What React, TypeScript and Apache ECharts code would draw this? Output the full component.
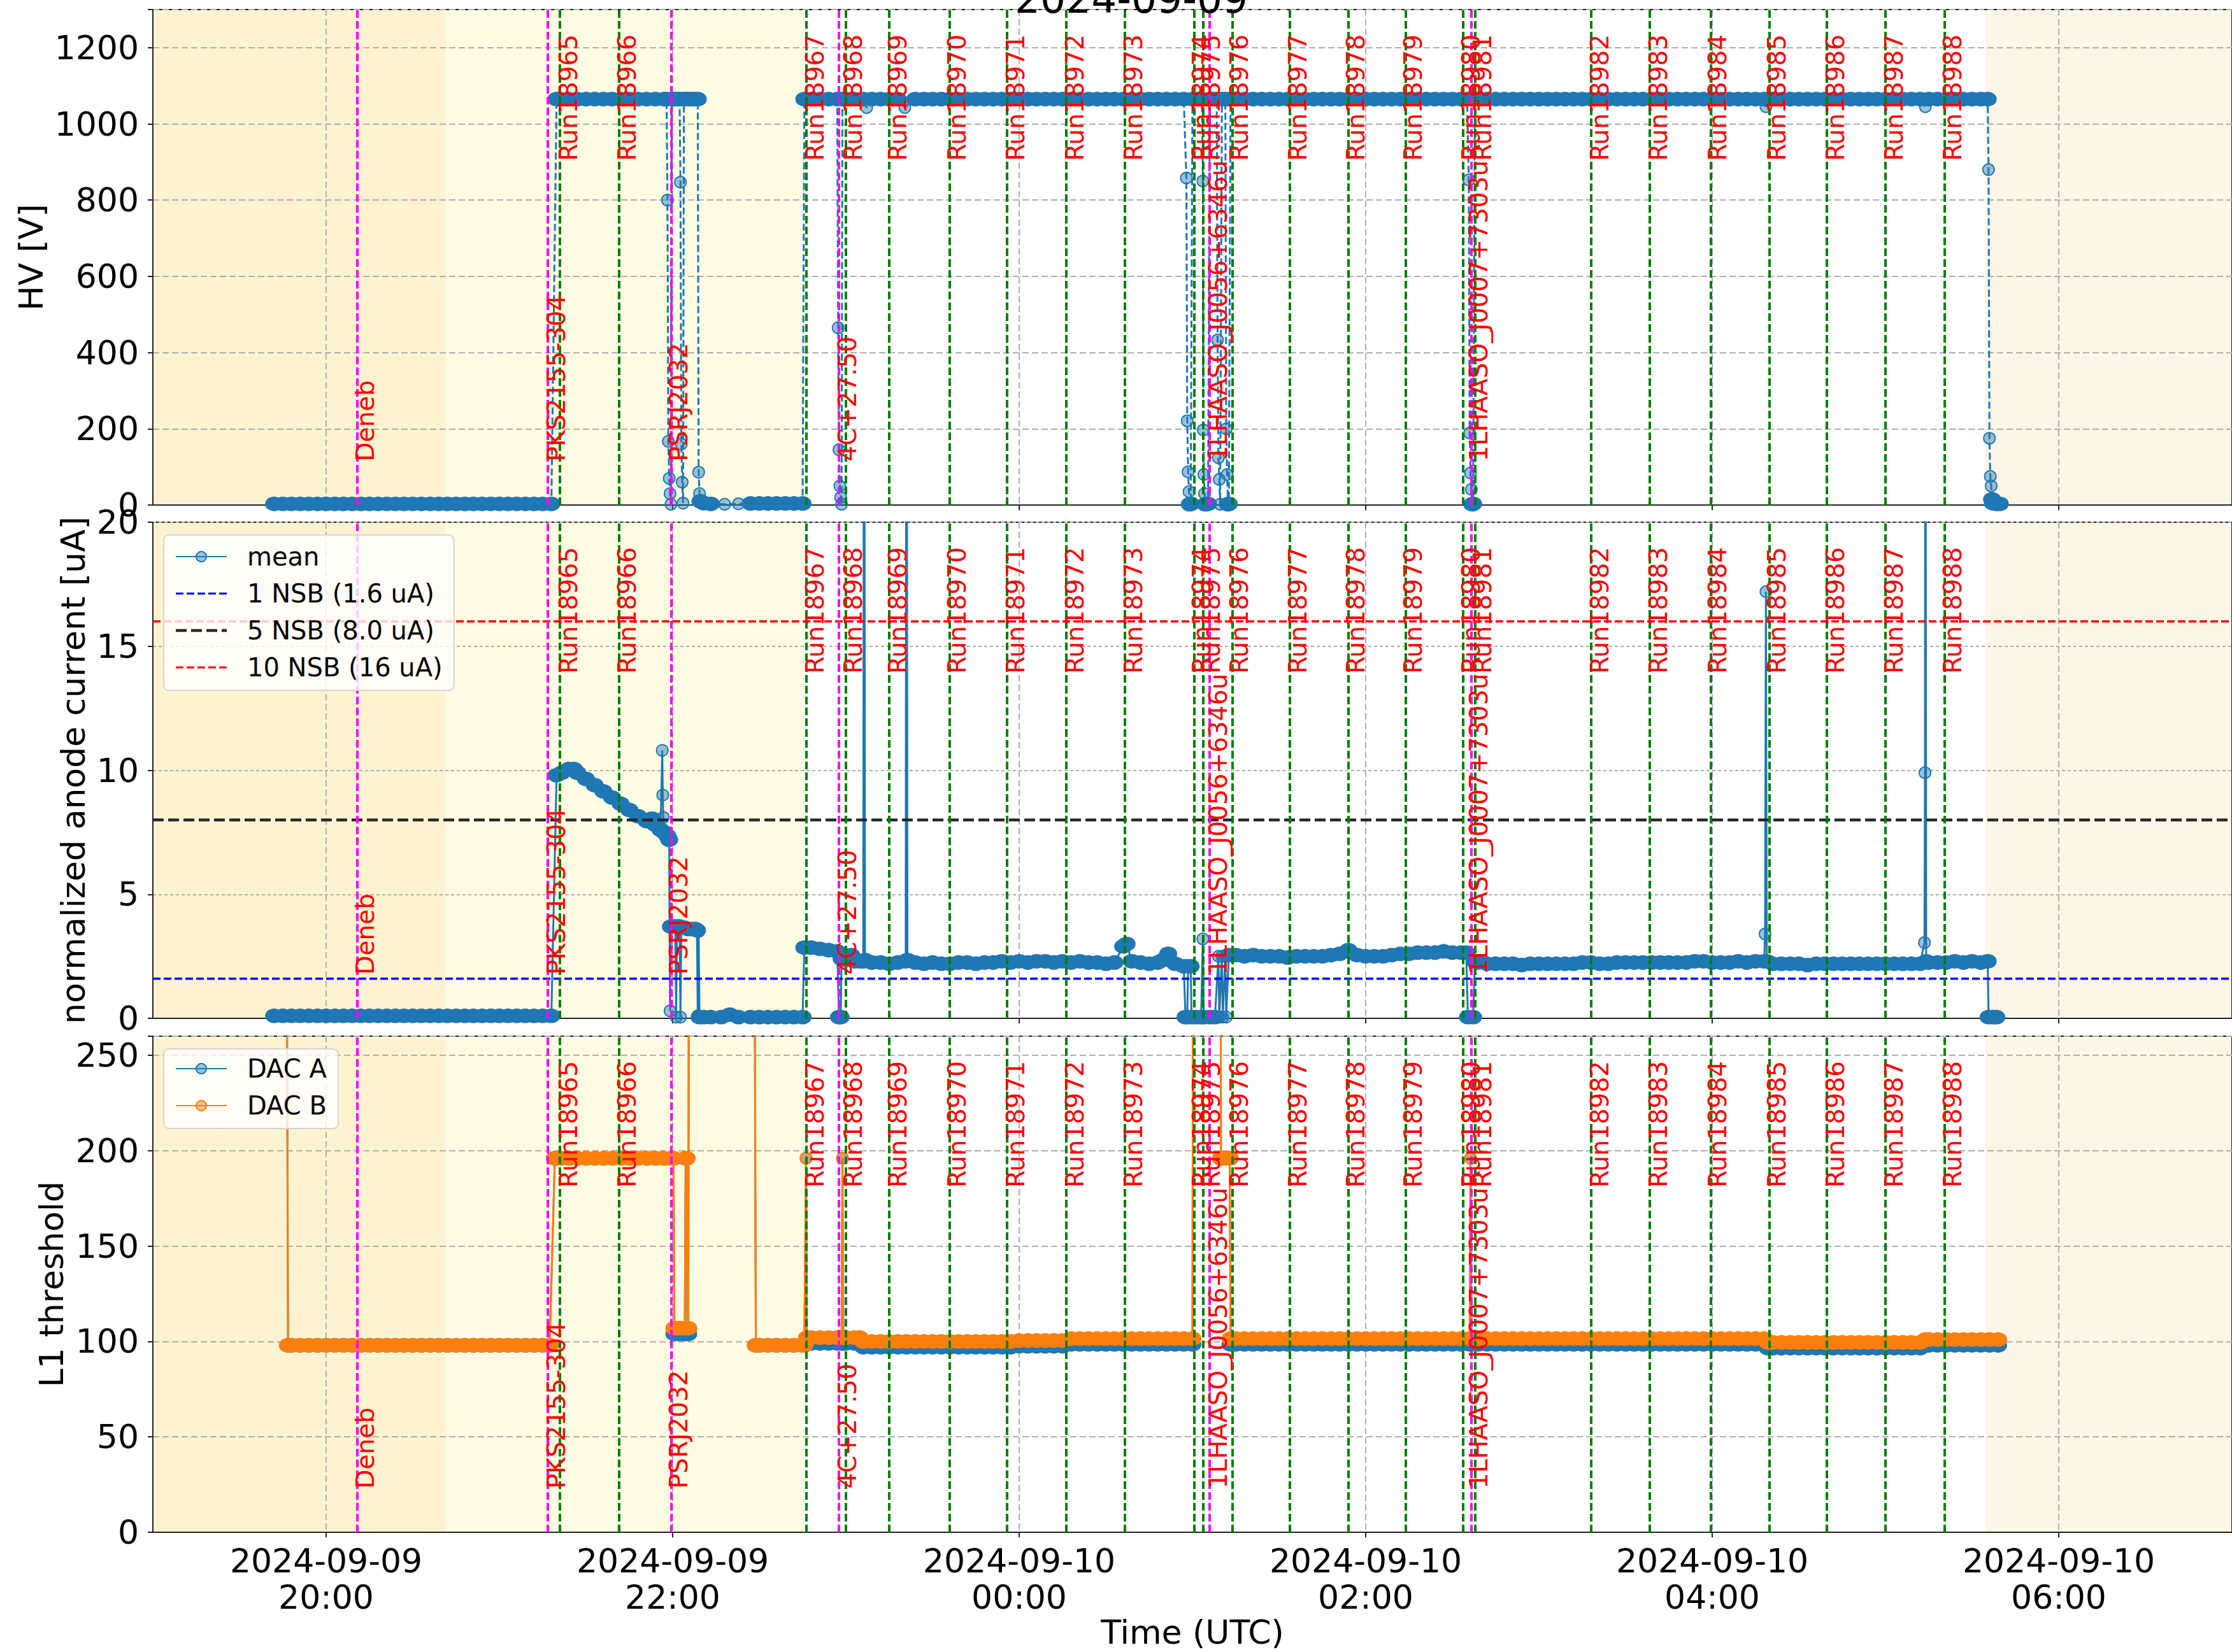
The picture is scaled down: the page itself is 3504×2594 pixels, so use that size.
import React, { useEffect, useRef } from 'react';
import * as echarts from 'echarts';

// x values: hours since 2024-09-09 00:00 UTC
const X_MIN = 19;
const X_MAX = 31;
const X_TICKS = [20, 22, 24, 26, 28, 30];
const TITLE = '2024-09-09';

const RUN_NAMES = ['Run18965','Run18966','Run18967','Run18968','Run18969','Run18970','Run18971','Run18972','Run18973','Run18974','Run18975','Run18976','Run18977','Run18978','Run18979','Run18980','Run18981','Run18982','Run18983','Run18984','Run18985','Run18986','Run18987','Run18988'];
const RUN_TIMES = [21.353,21.69,22.774,22.996,23.255,23.596,23.934,24.274,24.614,25.006,25.063,25.225,25.564,25.898,26.229,26.563,26.63,27.304,27.645,27.987,28.326,28.665,29.004,29.343];

const SOURCE_NAMES = ['Deneb','PKS2155-304','PSRJ2032','4C+27.50','1LHAASO_J0056+6346u','1LHAASO_J0007+7303u'];
const SOURCE_TIMES = [20.18,21.283,21.988,22.965,25.103,26.606];

const SKY_SPANS = [[19, 20.69], [20.69, 22.76], [29.576, 31]];
const SKY_COLORS = ['#fdf3d1', '#fffce3', '#fdf5e6'];

const NSB_NAMES = ['1 NSB (1.6 uA)', '5 NSB (8.0 uA)', '10 NSB (16 uA)'];
const NSB_LEVELS = [1.6, 8.0, 16];
const NSB_COLORS = ['#0000ff', '#262626', '#ff0000'];

const HV_VOLTAGE = [
[19.70,3],[19.75,3],[19.80,3],[19.85,3],[19.90,3],[19.95,3],[20.00,3],[20.05,3],[20.10,3],[20.15,3],[20.20,3],[20.25,3],[20.30,3],[20.35,3],[20.40,3],[20.45,3],[20.50,3],[20.55,3],[20.60,3],[20.65,3],[20.70,3],[20.75,3],[20.80,3],[20.85,3],[20.90,3],[20.95,3],[21.00,3],[21.05,3],[21.10,3],[21.15,3],[21.20,3],[21.25,3],[21.30,3],
[21.33,1065],[21.35,1065],[21.40,1065],[21.45,1065],[21.50,1065],[21.55,1065],[21.60,1065],[21.65,1065],[21.70,1065],[21.75,1065],[21.80,1065],[21.85,1065],[21.90,1065],[21.95,1065],[21.965,1065],
[21.97,800],[21.975,167],[21.98,70],[21.985,30],[21.99,2],[21.995,1065],[22.01,1065],[22.025,1065],[22.04,1065],
[22.045,847],[22.05,160],[22.055,60],[22.06,5],[22.065,1065],[22.08,1065],[22.10,1065],[22.12,1065],[22.145,1065],
[22.15,86],[22.155,30],[22.16,10],[22.18,5],[22.22,3],[22.30,2],[22.38,3],[22.45,4],[22.50,4],[22.55,4],[22.60,4],[22.65,4],[22.70,4],[22.75,4],
[22.76,1065],[22.80,1065],[22.85,1065],[22.90,1065],[22.95,1065],
[22.955,465],[22.96,145],[22.965,50],[22.97,20],[22.975,2],[22.98,1065],
[23.00,1065],[23.05,1065],[23.10,1065],[23.12,1043],[23.15,1065],[23.20,1065],[23.25,1065],[23.30,1065],[23.34,1043],
[23.40,1065],[23.45,1065],[23.50,1065],[23.55,1065],[23.60,1065],[23.65,1065],[23.70,1065],[23.75,1065],[23.80,1065],[23.85,1065],[23.90,1065],[23.95,1065],
[24.00,1065],[24.05,1065],[24.10,1065],[24.15,1065],[24.20,1065],[24.25,1065],[24.30,1065],[24.35,1065],[24.40,1065],[24.45,1065],[24.50,1065],[24.55,1065],
[24.60,1065],[24.65,1065],[24.70,1065],[24.75,1065],[24.80,1065],[24.85,1065],[24.90,1065],[24.95,1065],
[24.965,858],[24.97,221],[24.975,87],[24.98,35],[24.985,2],[24.99,3],[25.00,1065],[25.03,1065],[25.055,1065],
[25.06,850],[25.063,197],[25.066,80],[25.07,30],[25.075,2],[25.09,3],[25.10,1065],[25.12,1065],[25.14,1065],
[25.145,433],[25.15,124],[25.155,67],[25.16,2],[25.17,1065],[25.19,1065],
[25.195,200],[25.20,80],[25.205,2],[25.21,3],[25.22,1065],
[25.25,1065],[25.30,1065],[25.35,1065],[25.40,1065],[25.45,1065],[25.50,1065],[25.55,1065],[25.60,1065],[25.65,1065],[25.70,1065],[25.75,1065],[25.80,1065],[25.85,1065],[25.90,1065],
[25.95,1065],[26.00,1065],[26.05,1065],[26.10,1065],[26.15,1065],[26.20,1065],[26.25,1065],[26.30,1065],[26.35,1065],[26.40,1065],[26.45,1065],[26.50,1065],[26.55,1065],
[26.585,1065],[26.595,853],[26.60,189],[26.605,84],[26.61,41],[26.615,2],[26.62,3],[26.63,1065],
[26.65,1065],[26.70,1065],[26.75,1065],[26.80,1065],[26.85,1065],[26.90,1065],[26.95,1065],[27.00,1065],[27.05,1065],[27.10,1065],[27.15,1065],[27.20,1065],
[27.25,1065],[27.30,1065],[27.35,1065],[27.40,1065],[27.45,1065],[27.50,1065],[27.55,1065],[27.60,1065],[27.65,1065],[27.70,1065],[27.75,1065],[27.80,1065],
[27.85,1065],[27.90,1065],[27.95,1065],[28.00,1065],[28.05,1065],[28.10,1065],[28.15,1065],[28.20,1065],[28.25,1065],[28.30,1065],
[28.31,1045],[28.33,1065],
[28.35,1065],[28.40,1065],[28.45,1065],[28.50,1065],[28.55,1065],[28.60,1065],[28.65,1065],[28.70,1065],[28.75,1065],[28.80,1065],[28.85,1065],[28.90,1065],
[28.95,1065],[29.00,1065],[29.05,1065],[29.10,1065],[29.15,1065],[29.20,1065],
[29.23,1045],
[29.25,1065],[29.30,1065],[29.35,1065],[29.40,1065],[29.45,1065],[29.50,1065],[29.55,1065],[29.59,1065],
[29.595,880],[29.60,175],[29.605,75],[29.61,50],[29.615,15],[29.62,5],[29.64,3],[29.66,3]
];

const MEAN_CURRENT = [
[19.70,0.1],[19.75,0.1],[19.80,0.1],[19.85,0.1],[19.90,0.1],[19.95,0.1],[20.00,0.1],[20.05,0.1],[20.10,0.1],[20.15,0.1],[20.20,0.1],[20.25,0.1],[20.30,0.1],[20.35,0.1],[20.40,0.1],[20.45,0.1],[20.50,0.1],[20.55,0.1],[20.60,0.1],[20.65,0.1],[20.70,0.1],[20.75,0.1],[20.80,0.1],[20.85,0.1],[20.90,0.1],[20.95,0.1],[21.00,0.1],[21.05,0.1],[21.10,0.1],[21.15,0.1],[21.20,0.1],[21.25,0.1],[21.30,0.1],
[21.33,9.8],[21.36,9.9],[21.40,10.05],[21.43,10.05],[21.45,9.9],[21.50,9.65],[21.55,9.4],[21.60,9.15],[21.65,8.9],[21.70,8.65],[21.75,8.4],[21.80,8.15],[21.85,7.95],[21.88,8.05],[21.90,7.8],[21.93,7.6],
[21.94,10.8],[21.943,9.0],[21.946,8.1],[21.95,7.5],[21.97,7.35],[21.98,7.2],[21.985,0.3],
[21.99,3.7],[22.00,3.7],[22.015,3.7],[22.02,0.05],[22.025,3.7],[22.04,3.7],[22.045,0.05],[22.05,3.65],[22.07,3.65],[22.09,3.6],[22.11,3.6],[22.13,3.6],[22.14,3.55],[22.145,0.1],[22.15,3.5],[22.155,0.05],
[22.18,0.05],[22.22,0.05],[22.28,0.05],[22.33,0.15],[22.38,0.05],[22.45,0.05],[22.50,0.05],[22.55,0.05],[22.60,0.05],[22.65,0.05],[22.70,0.05],[22.75,0.05],
[22.76,2.85],[22.80,2.85],[22.85,2.8],[22.90,2.75],[22.95,2.7],[22.96,0.05],[22.97,0.05],[22.975,2.4],[23.00,2.35],[23.03,2.55],[23.05,2.3],[23.08,2.3],[23.10,2.3],[23.105,40],
[23.11,2.35],[23.15,2.25],[23.20,2.25],[23.25,2.2],[23.30,2.25],[23.345,2.3],[23.35,40],[23.355,2.35],
[23.40,2.25],[23.45,2.2],[23.50,2.25],[23.55,2.2],[23.60,2.2],[23.65,2.25],[23.70,2.25],[23.75,2.2],[23.80,2.25],[23.85,2.25],[23.90,2.3],[23.95,2.25],
[24.00,2.3],[24.05,2.25],[24.10,2.3],[24.15,2.3],[24.20,2.25],[24.25,2.3],[24.30,2.25],[24.35,2.3],[24.40,2.25],[24.45,2.25],[24.50,2.2],[24.55,2.25],
[24.60,2.9],[24.62,3.0],[24.65,2.3],[24.70,2.25],[24.75,2.2],[24.80,2.25],[24.83,2.35],[24.86,2.6],[24.90,2.2],[24.95,2.1],
[24.96,0.05],[24.97,0.05],[24.975,2.1],[24.99,2.1],[24.995,0.05],[25.02,0.05],[25.05,0.05],[25.06,3.2],[25.065,0.05],[25.10,0.05],[25.13,0.05],
[25.15,2.5],[25.155,0.05],[25.17,2.5],[25.175,0.05],[25.19,2.5],[25.195,0.05],[25.21,2.55],
[25.25,2.55],[25.30,2.5],[25.35,2.55],[25.40,2.5],[25.45,2.5],[25.50,2.5],[25.55,2.45],[25.60,2.5],[25.65,2.5],[25.70,2.5],[25.75,2.5],[25.80,2.55],[25.85,2.6],[25.90,2.75],
[25.95,2.55],[26.00,2.5],[26.05,2.5],[26.10,2.5],[26.15,2.55],[26.20,2.6],[26.25,2.6],[26.30,2.65],[26.35,2.65],[26.40,2.65],[26.45,2.7],[26.50,2.65],[26.55,2.65],
[26.58,2.65],[26.59,0.05],[26.62,0.05],[26.63,2.3],
[26.65,2.25],[26.70,2.2],[26.75,2.2],[26.80,2.2],[26.85,2.2],[26.90,2.15],[26.95,2.2],[27.00,2.2],[27.05,2.2],[27.10,2.2],[27.15,2.2],[27.20,2.2],
[27.25,2.25],[27.30,2.25],[27.35,2.2],[27.40,2.2],[27.45,2.25],[27.50,2.25],[27.55,2.25],[27.60,2.25],[27.65,2.25],[27.70,2.25],[27.75,2.25],[27.80,2.25],
[27.85,2.25],[27.90,2.3],[27.95,2.3],[28.00,2.25],[28.05,2.25],[28.10,2.25],[28.15,2.3],[28.20,2.25],[28.25,2.3],[28.30,2.3],
[28.305,3.4],[28.31,17.2],[28.315,2.3],
[28.35,2.2],[28.40,2.2],[28.45,2.2],[28.50,2.2],[28.55,2.15],[28.60,2.2],[28.65,2.2],[28.70,2.2],[28.75,2.2],[28.80,2.2],[28.85,2.2],[28.90,2.2],
[28.95,2.2],[29.00,2.2],[29.05,2.2],[29.10,2.2],[29.15,2.2],[29.20,2.2],
[29.225,3.05],[29.228,9.9],[29.23,40],[29.235,2.3],
[29.25,2.25],[29.30,2.25],[29.35,2.25],[29.40,2.3],[29.45,2.25],[29.50,2.3],[29.55,2.25],[29.59,2.3],
[29.595,0.05],[29.62,0.05],[29.64,0.05]
];

const DAC_A = [
[19.77,400],[19.78,98],[19.80,98],[19.85,98],[19.90,98],[19.95,98],[20.00,98],[20.05,98],[20.10,98],[20.15,98],[20.20,98],[20.25,98],[20.30,98],[20.35,98],[20.40,98],[20.45,98],[20.50,98],[20.55,98],[20.60,98],[20.65,98],[20.70,98],[20.75,98],[20.80,98],[20.85,98],[20.90,98],[20.95,98],[21.00,98],[21.05,98],[21.10,98],[21.15,98],[21.20,98],[21.25,98],[21.29,98],
[21.32,196],[21.35,196],[21.40,196],[21.45,196],[21.50,196],[21.55,196],[21.60,196],[21.65,196],[21.70,196],[21.75,196],[21.80,196],[21.85,196],[21.90,196],[21.95,196],[21.99,196],[22.005,196],
[22.01,104],[22.03,104],[22.05,104],[22.07,104],[22.075,196],[22.08,196],[22.085,104],[22.09,104],[22.095,400],[22.47,400],
[22.48,98],[22.50,98],[22.55,98],[22.60,98],[22.65,98],[22.70,98],[22.75,98],[22.76,98],
[22.77,196],[22.775,99],[22.80,99],[22.85,99],[22.90,99],[22.95,99],[22.975,99],[22.98,196],[22.985,99],[23.00,99],[23.05,99],[23.08,99],
[23.10,97],[23.15,97],[23.20,97],[23.25,97],[23.30,97],[23.35,97],[23.40,97],[23.45,97],[23.50,97],[23.55,97],[23.60,97],[23.65,97],[23.70,97],[23.75,97],[23.80,97],[23.85,97],[23.90,97],[23.95,97],
[24.00,97.5],[24.05,97.5],[24.10,97.5],[24.15,97.5],[24.20,97.5],[24.25,97.5],
[24.30,98.5],[24.35,98.5],[24.40,98.5],[24.45,98.5],[24.50,98.5],[24.55,98.5],[24.60,98.5],[24.65,98.5],[24.70,98.5],[24.75,98.5],[24.80,98.5],[24.85,98.5],[24.90,98.5],[24.95,98.5],[25.00,98.5],
[25.005,400],[25.16,400],[25.165,196],[25.17,196],[25.19,196],[25.215,196],[25.22,98.5],
[25.25,98.5],[25.30,98.5],[25.35,98.5],[25.40,98.5],[25.45,98.5],[25.50,98.5],[25.55,98.5],[25.60,98.5],[25.65,98.5],[25.70,98.5],[25.75,98.5],[25.80,98.5],[25.85,98.5],[25.90,98.5],
[25.95,98.5],[26.00,98.5],[26.05,98.5],[26.10,98.5],[26.15,98.5],[26.20,98.5],[26.25,98.5],[26.30,98.5],[26.35,98.5],[26.40,98.5],[26.45,98.5],[26.50,98.5],[26.55,98.5],
[26.60,98.5],[26.605,196],[26.61,98.5],
[26.65,98.5],[26.70,98.5],[26.75,98.5],[26.80,98.5],[26.85,98.5],[26.90,98.5],[26.95,98.5],[27.00,98.5],[27.05,98.5],[27.10,98.5],[27.15,98.5],[27.20,98.5],
[27.25,98.5],[27.30,98.5],[27.35,98.5],[27.40,98.5],[27.45,98.5],[27.50,98.5],[27.55,98.5],[27.60,98.5],[27.65,98.5],[27.70,98.5],[27.75,98.5],[27.80,98.5],
[27.85,98.5],[27.90,98.5],[27.95,98.5],[28.00,98.5],[28.05,98.5],[28.10,98.5],[28.15,98.5],[28.20,98.5],[28.25,98.5],[28.30,98.5],
[28.32,96.5],[28.35,96.5],[28.40,96.5],[28.45,96.5],[28.50,96.5],[28.55,96.5],[28.60,96.5],[28.65,96.5],[28.70,96.5],[28.75,96.5],[28.80,96.5],[28.85,96.5],[28.90,96.5],
[28.95,96.5],[29.00,96.5],[29.05,96.5],[29.10,96.5],[29.15,96.5],[29.20,96.5],
[29.23,98],[29.25,98],[29.30,98],[29.35,98],[29.40,98],[29.45,98],[29.50,98],[29.55,98],[29.60,98],[29.65,98]
];

const DAC_B = [
[19.77,400],[19.78,98],[19.80,98],[19.85,98],[19.90,98],[19.95,98],[20.00,98],[20.05,98],[20.10,98],[20.15,98],[20.20,98],[20.25,98],[20.30,98],[20.35,98],[20.40,98],[20.45,98],[20.50,98],[20.55,98],[20.60,98],[20.65,98],[20.70,98],[20.75,98],[20.80,98],[20.85,98],[20.90,98],[20.95,98],[21.00,98],[21.05,98],[21.10,98],[21.15,98],[21.20,98],[21.25,98],[21.29,98],
[21.32,196],[21.35,196],[21.40,196],[21.45,196],[21.50,196],[21.55,196],[21.60,196],[21.65,196],[21.70,196],[21.75,196],[21.80,196],[21.85,196],[21.90,196],[21.95,196],[21.99,196],[22.005,196],
[22.01,107],[22.03,107],[22.05,107],[22.07,107],[22.075,196],[22.08,196],[22.085,107],[22.09,107],[22.095,400],[22.47,400],
[22.48,98],[22.50,98],[22.55,98],[22.60,98],[22.65,98],[22.70,98],[22.75,98],[22.76,98],
[22.77,196],[22.775,102],[22.80,102],[22.85,102],[22.90,102],[22.95,102],[22.975,102],[22.98,196],[22.985,102],[23.00,102],[23.05,102],[23.08,102],
[23.10,100],[23.15,100],[23.20,100],[23.25,100],[23.30,100],[23.35,100],[23.40,100],[23.45,100],[23.50,100],[23.55,100],[23.60,100],[23.65,100],[23.70,100],[23.75,100],[23.80,100],[23.85,100],[23.90,100],[23.95,100],
[24.00,100.5],[24.05,100.5],[24.10,100.5],[24.15,100.5],[24.20,100.5],[24.25,100.5],
[24.30,101.5],[24.35,101.5],[24.40,101.5],[24.45,101.5],[24.50,101.5],[24.55,101.5],[24.60,101.5],[24.65,101.5],[24.70,101.5],[24.75,101.5],[24.80,101.5],[24.85,101.5],[24.90,101.5],[24.95,101.5],[25.00,101.5],
[25.005,400],[25.16,400],[25.165,196],[25.17,196],[25.19,196],[25.215,196],[25.22,101.5],
[25.25,101.5],[25.30,101.5],[25.35,101.5],[25.40,101.5],[25.45,101.5],[25.50,101.5],[25.55,101.5],[25.60,101.5],[25.65,101.5],[25.70,101.5],[25.75,101.5],[25.80,101.5],[25.85,101.5],[25.90,101.5],
[25.95,101.5],[26.00,101.5],[26.05,101.5],[26.10,101.5],[26.15,101.5],[26.20,101.5],[26.25,101.5],[26.30,101.5],[26.35,101.5],[26.40,101.5],[26.45,101.5],[26.50,101.5],[26.55,101.5],
[26.60,101.5],[26.605,196],[26.61,101.5],
[26.65,101.5],[26.70,101.5],[26.75,101.5],[26.80,101.5],[26.85,101.5],[26.90,101.5],[26.95,101.5],[27.00,101.5],[27.05,101.5],[27.10,101.5],[27.15,101.5],[27.20,101.5],
[27.25,101.5],[27.30,101.5],[27.35,101.5],[27.40,101.5],[27.45,101.5],[27.50,101.5],[27.55,101.5],[27.60,101.5],[27.65,101.5],[27.70,101.5],[27.75,101.5],[27.80,101.5],
[27.85,101.5],[27.90,101.5],[27.95,101.5],[28.00,101.5],[28.05,101.5],[28.10,101.5],[28.15,101.5],[28.20,101.5],[28.25,101.5],[28.30,101.5],
[28.32,99.5],[28.35,99.5],[28.40,99.5],[28.45,99.5],[28.50,99.5],[28.55,99.5],[28.60,99.5],[28.65,99.5],[28.70,99.5],[28.75,99.5],[28.80,99.5],[28.85,99.5],[28.90,99.5],
[28.95,99.5],[29.00,99.5],[29.05,99.5],[29.10,99.5],[29.15,99.5],[29.20,99.5],
[29.23,101],[29.25,101],[29.30,101],[29.35,101],[29.40,101],[29.45,101],[29.50,101],[29.55,101],[29.60,101],[29.65,101]
];

const FONT = 'DejaVu Sans, sans-serif';
const AX = '#222222';
const BLUE = '#1f77b4';
const BLUE_LIGHT = 'rgba(31,119,180,0.45)';
const ORANGE = '#ff7f0e';
const ORANGE_LIGHT = 'rgba(255,127,14,0.45)';
const RUN_LABEL_FRAC = 0.95;
const SOURCE_LABEL_FRAC = 0.088;

const PANELS = [
  { top: 15, height: 778, max: 1300, interval: 200, name: 'HV [V]', nameGap: 163, grid: [10, 5] },
  { top: 820, height: 779, max: 20, interval: 5, name: 'normalized anode current [uA]', nameGap: 98, grid: [5, 4] },
  { top: 1627, height: 779, max: 260, interval: 50, name: 'L1 threshold', nameGap: 133, grid: [10, 5] },
];

// dashed legend handles (80 x 20 box)
const DASH_ICON_THIN = 'path://M0,0M80,20M0,8.5h12v3h-12zM17,8.5h12v3h-12zM34,8.5h12v3h-12zM51,8.5h12v3h-12zM68,8.5h12v3h-12z';
const DASH_ICON_THICK = 'path://M0,0M80,20M0,7.75h17v4.5h-17zM24,7.75h17v4.5h-17zM48,7.75h17v4.5h-17zM72,7.75h8v4.5h-8z';

function fmtX(v: number) {
  const day = v >= 24 ? '2024-09-10' : '2024-09-09';
  const hh = Math.round(v % 24);
  return day + '\n' + String(hh).padStart(2, '0') + ':00';
}

// true where a sample sits inside a dense run of samples at the same level
function bandFlags(data: number[][], tol: number) {
  return data.map((d, i) => {
    const near = (j: number) =>
      j >= 0 && j < data.length && Math.abs(data[j][1] - d[1]) <= tol && Math.abs(data[j][0] - d[0]) <= 0.06;
    return near(i - 1) || near(i + 1);
  });
}

function decorations() {
  return {
    markArea: {
      silent: true,
      z: -1,
      data: SKY_SPANS.map((s, i) => [
        { xAxis: s[0], itemStyle: { color: SKY_COLORS[i] } },
        { xAxis: s[1] },
      ]),
    },
    markLine: {
      silent: true,
      symbol: ['none', 'none'],
      label: { show: false },
      emphasis: { disabled: true },
      data: [
        ...RUN_TIMES.map((t) => ({ xAxis: t, lineStyle: { color: '#008000', type: [12, 5], width: 4 } })),
        ...SOURCE_TIMES.map((t) => ({ xAxis: t, lineStyle: { color: '#ff00ff', type: [12, 5], width: 4 } })),
      ],
    },
  };
}

function labelSeries(gi: number) {
  const ymax = PANELS[gi].max;
  const mk = (times: number[], names: string[], frac: number, align: string) => ({
    type: 'custom',
    xAxisIndex: gi,
    yAxisIndex: gi,
    z: 10,
    silent: true,
    clip: false,
    data: times.map((t) => [t, ymax * frac]),
    renderItem: (params: any, api: any) => {
      const p = api.coord([api.value(0), api.value(1)]);
      return {
        type: 'text',
        x: p[0] - 7,
        y: p[1],
        rotation: Math.PI / 2,
        style: {
          text: names[params.dataIndex],
          fill: '#ff0000',
          fontSize: 39,
          fontFamily: FONT,
          align,
          verticalAlign: 'top',
        },
      };
    },
  });
  return [
    mk(RUN_TIMES, RUN_NAMES, RUN_LABEL_FRAC, 'right'),
    mk(SOURCE_TIMES, SOURCE_NAMES, SOURCE_LABEL_FRAC, 'left'),
  ];
}

function markerSeries(name: string, gi: number, data: number[][], color: string, light: string, dashed: boolean, tol: number) {
  const flags = bandFlags(data, tol);
  return {
    name,
    type: 'line',
    xAxisIndex: gi,
    yAxisIndex: gi,
    data,
    symbol: 'circle',
    symbolSize: (_v: any, p: any) => (flags[p.dataIndex] ? [26, 21] : 18),
    showAllSymbol: true,
    clip: true,
    z: 2,
    lineStyle: { color, width: 3, type: dashed ? [11, 5] : 'solid' },
    itemStyle: {
      color: (p: any) => (flags[p.dataIndex] ? color : light),
      borderColor: color,
      borderWidth: 2,
    },
    emphasis: { disabled: true },
  };
}

const legendBase = {
  orient: 'vertical',
  left: 257,
  itemWidth: 80,
  itemHeight: 20,
  itemGap: 18,
  selectedMode: false,
  backgroundColor: 'rgba(255,255,255,0.8)',
  borderColor: '#d4d4d4',
  borderWidth: 2,
  borderRadius: 8,
  z: 20,
  textStyle: { fontSize: 40, fontFamily: FONT, color: '#000', padding: [0, 0, 0, 27] },
};

export default function App() {
  const ref = useRef<HTMLDivElement>(null);
  useEffect(() => {
    if (!ref.current) return;
    const chart = echarts.init(ref.current, undefined, { renderer: 'svg' });
    const hv = { ...markerSeries('HV', 0, HV_VOLTAGE, BLUE, BLUE_LIGHT, true, 15), ...decorations() };
    const mean = { ...markerSeries('mean', 1, MEAN_CURRENT, BLUE, BLUE_LIGHT, false, 0.3), ...decorations() };
    const dacA = markerSeries('DAC A', 2, DAC_A, BLUE, BLUE_LIGHT, false, 3);
    const dacB = { ...markerSeries('DAC B', 2, DAC_B, ORANGE, ORANGE_LIGHT, false, 3), ...decorations() };
    const nsb = NSB_NAMES.map((n, i) => ({
      name: n,
      type: 'line',
      xAxisIndex: 1,
      yAxisIndex: 1,
      data: [[X_MIN, NSB_LEVELS[i]], [X_MAX, NSB_LEVELS[i]]],
      symbol: 'none',
      z: 3,
      silent: true,
      lineStyle: { color: NSB_COLORS[i], width: i === 1 ? 4.5 : 3.5, type: i === 1 ? [17, 7] : [12, 5] },
      itemStyle: { color: NSB_COLORS[i] },
    }));

    const option: any = {
      animation: false,
      color: [BLUE, BLUE, '#0000ff', '#262626', '#ff0000', BLUE, ORANGE],
      textStyle: { fontFamily: FONT },
      grid: PANELS.map((p) => ({
        left: 240, right: 0, top: p.top, height: p.height,
        show: true, borderColor: AX, borderWidth: 2, backgroundColor: 'transparent',
      })),
      xAxis: PANELS.map((p, i) => ({
        type: 'value',
        gridIndex: i,
        min: X_MIN,
        max: X_MAX,
        axisLine: { show: true, onZero: false, lineStyle: { color: AX, width: 2 } },
        axisTick: { show: true, customValues: X_TICKS, length: 8, lineStyle: { color: AX, width: 2 } },
        axisLabel: {
          show: i === 2, customValues: X_TICKS, formatter: fmtX,
          fontSize: 52, lineHeight: 57, color: '#000', fontFamily: FONT, margin: 16,
        },
        splitLine: { show: true, lineStyle: { color: '#b0b0b0', width: 2, type: [10, 5] } },
        name: i === 2 ? 'Time (UTC)' : '',
        nameLocation: 'middle',
        nameGap: 128,
        nameTextStyle: { fontSize: 52, color: '#000', fontFamily: FONT },
      })),
      yAxis: PANELS.map((p, i) => ({
        type: 'value',
        gridIndex: i,
        min: 0,
        max: p.max,
        interval: p.interval,
        axisLine: { show: true, lineStyle: { color: AX, width: 2 } },
        axisTick: { show: true, length: 8, lineStyle: { color: AX, width: 2 } },
        axisLabel: {
          fontSize: 52, color: '#000', fontFamily: FONT, margin: 22,
          formatter: (v: number) => (Math.abs(v % p.interval) < 1e-9 ? String(v) : ''),
        },
        splitLine: { show: true, lineStyle: { color: '#b0b0b0', width: 2, type: p.grid } },
        name: p.name,
        nameLocation: 'middle',
        nameRotate: 90,
        nameGap: p.nameGap,
        nameTextStyle: { fontSize: 52, color: '#000', fontFamily: FONT },
      })),
      legend: [
        {
          ...legendBase, top: 840, padding: [14, 18, 16, 18],
          data: [
            { name: 'mean', itemStyle: { color: BLUE_LIGHT, borderColor: BLUE, borderWidth: 2 } },
            { name: NSB_NAMES[0], icon: DASH_ICON_THIN, itemStyle: { color: NSB_COLORS[0], borderWidth: 0 } },
            { name: NSB_NAMES[1], icon: DASH_ICON_THICK, itemStyle: { color: NSB_COLORS[1], borderWidth: 0 } },
            { name: NSB_NAMES[2], icon: DASH_ICON_THIN, itemStyle: { color: NSB_COLORS[2], borderWidth: 0 } },
          ],
        },
        {
          ...legendBase, top: 1647, padding: [11, 18, 16, 18],
          data: [
            { name: 'DAC A', itemStyle: { color: BLUE_LIGHT, borderColor: BLUE, borderWidth: 2 } },
            { name: 'DAC B', itemStyle: { color: ORANGE_LIGHT, borderColor: ORANGE, borderWidth: 2 } },
          ],
        },
      ],
      graphic: [
        {
          type: 'text', x: 1776, y: -2, z: 100, silent: true,
          style: { text: TITLE, fontSize: 63, fontFamily: FONT, fill: '#000', align: 'center', verticalAlign: 'middle' },
        },
      ],
      series: [
        hv, mean, ...nsb, dacA, dacB,
        ...labelSeries(0), ...labelSeries(1), ...labelSeries(2),
      ],
    };
    chart.setOption(option);
    return () => chart.dispose();
  }, []);
  return <div ref={ref} style={{ position: 'absolute', left: 0, top: 0, width: 3504, height: 2594, background: '#fff' }} />;
}
